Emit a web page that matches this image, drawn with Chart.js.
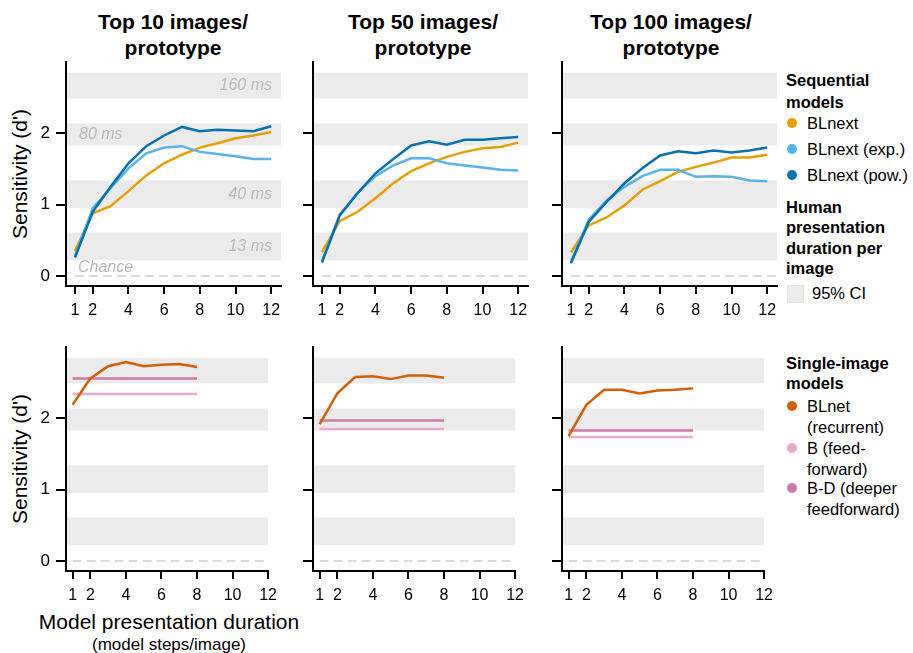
<!DOCTYPE html>
<html>
<head>
<meta charset="utf-8">
<script src="https://cdn.jsdelivr.net/npm/chart.js@4.4.0/dist/chart.umd.min.js"></script>
<style>
  body { margin: 0; background: #fff; font-family: 'Liberation Sans', Arial, sans-serif; color: #000; }
  #page { position: relative; width: 913px; height: 653px; overflow: hidden; }
  .panel { position: absolute; }
  .title { position: absolute; width: 260px; margin-left: -130px; text-align: center;
           font-weight: bold; font-size: 21px; line-height: 26px; }
  .ylab { position: absolute; white-space: nowrap; font-size: 21px;
          transform: translate(-50%, -50%) rotate(-90deg); }
  .xlab { position: absolute; white-space: nowrap; transform: translate(-50%, -50%); }
  .lg { position: absolute; left: 786px; font-size: 16.5px; white-space: nowrap; }
  .lg b { display: block; }
  .item { position: absolute; left: 807px; font-size: 16.5px; line-height: 21px; white-space: nowrap; }
  .dot { position: absolute; left: 787px; width: 10px; height: 10px; border-radius: 50%; }
</style>
</head>
<body>
<div id="page">
  <div class="ylab" style="left:20px;top:174px">Sensitivity (d')</div>
  <div class="ylab" style="left:20px;top:459px">Sensitivity (d')</div>
  <div class="xlab" style="left:169px;top:622px;font-size:21px">Model presentation duration</div>
  <div class="xlab" style="left:169px;top:645px;font-size:17px">(model steps/image)</div>

  <!-- legend -->
  <div class="lg" style="top:69px;line-height:22px"><b>Sequential<br>models</b></div>
  <div class="dot" style="top:118px;background:#E69F00"></div>
  <div class="item" style="top:112.5px">BLnext</div>
  <div class="dot" style="top:144px;background:#56B4E9"></div>
  <div class="item" style="top:138.5px">BLnext (exp.)</div>
  <div class="dot" style="top:170px;background:#0072B2"></div>
  <div class="item" style="top:164.5px">BLnext (pow.)</div>
  <div class="lg" style="top:196.5px;line-height:20.5px"><b>Human<br>presentation<br>duration per<br>image</b></div>
  <div style="position:absolute;left:787px;top:285px;width:15px;height:16px;background:#ebebeb;border:1px solid #e2e2e2"></div>
  <div class="item" style="top:282.5px;left:812px">95% CI</div>

  <div class="lg" style="top:352.5px;line-height:20.5px"><b>Single-image<br>models</b></div>
  <div class="dot" style="top:401px;background:#D55E00"></div>
  <div class="item" style="top:395.5px">BLnet<br>(recurrent)</div>
  <div class="dot" style="top:443px;background:#EBAAD2"></div>
  <div class="item" style="top:437.5px">B (feed-<br>forward)</div>
  <div class="dot" style="top:483px;background:#CC79A7"></div>
  <div class="item" style="top:477.5px">B-D (deeper<br>feedforward)</div>
</div>

<script>
// 데이터
const panelTitles = ['Top 10 images/', 'Top 50 images/', 'Top 100 images/'];
const steps = [1, 2, 3, 4, 5, 6, 7, 8, 9, 10, 11, 12];
const singleSteps = [1, 2, 3, 4, 5, 6, 7, 8];
const xTicks = [1, 2, 4, 6, 8, 10, 12];
const yTicks = [0, 1, 2];

// BLnext (top row, one array per panel)
const blnext = [
    [0.35, 0.88, 0.98, 1.19, 1.41, 1.58, 1.70, 1.80, 1.86, 1.93, 1.97, 2.02],
    [0.33, 0.77, 0.90, 1.09, 1.30, 1.47, 1.58, 1.67, 1.74, 1.79, 1.81, 1.87],
    [0.33, 0.71, 0.82, 0.99, 1.21, 1.33, 1.46, 1.53, 1.59, 1.66, 1.66, 1.70]
];
const blnextExp = [
    [0.27, 0.95, 1.23, 1.51, 1.72, 1.80, 1.82, 1.74, 1.71, 1.68, 1.64, 1.64],
    [0.20, 0.86, 1.17, 1.40, 1.55, 1.65, 1.65, 1.58, 1.55, 1.52, 1.49, 1.48],
    [0.20, 0.79, 1.06, 1.25, 1.40, 1.49, 1.49, 1.39, 1.40, 1.39, 1.34, 1.33]
];
const blnextPow = [
    [0.26, 0.90, 1.25, 1.58, 1.82, 1.97, 2.09, 2.03, 2.05, 2.04, 2.03, 2.10],
    [0.19, 0.85, 1.16, 1.44, 1.64, 1.83, 1.89, 1.84, 1.91, 1.91, 1.93, 1.95],
    [0.18, 0.76, 1.04, 1.30, 1.51, 1.69, 1.75, 1.72, 1.76, 1.73, 1.76, 1.80]
];

// single-image models (bottom row)
const blnet = [
    [2.19, 2.56, 2.73, 2.79, 2.73, 2.75, 2.76, 2.72],
    [1.92, 2.35, 2.58, 2.59, 2.55, 2.60, 2.60, 2.57],
    [1.75, 2.19, 2.40, 2.40, 2.35, 2.39, 2.40, 2.42]
];
const bFeed = [2.34, 1.85, 1.74];
const bDeeper = [2.56, 1.97, 1.83];

// human 95% CI bands (d')
const humanBands = [[0.22, 0.61], [0.955, 1.34], [1.83, 2.14], [2.49, 2.85]];
const bandLabels = ['13 ms', '40 ms', '80 ms', '160 ms'];

const COLORS = {
    blnext: '#E69F00', exp: '#56B4E9', pow: '#0072B2',
    blnet: '#D55E00', bff: '#EBAAD2', bd: '#CC79A7'
};

Chart.defaults.font.family = "'Liberation Sans', Arial, sans-serif";

// 사람 데이터 밴드 + chance 선
const bandsPlugin = {
    id: 'humanBands',
    beforeDraw(chart, args, opts) {
        const { ctx, chartArea: a, scales: { x, y } } = chart;
        ctx.save();
        ctx.fillStyle = '#ebebeb';
        humanBands.forEach(([lo, hi]) => {
            const top = y.getPixelForValue(hi);
            const bot = y.getPixelForValue(lo);
            ctx.fillRect(a.left, top, a.right - a.left, bot - top);
        });

        const y0 = y.getPixelForValue(0);
        ctx.strokeStyle = '#d9d9d9';
        ctx.lineWidth = 2;
        ctx.setLineDash([9, 5]);
        ctx.beginPath();
        ctx.moveTo(x.getPixelForValue(1), y0);
        ctx.lineTo(a.right, y0);
        ctx.stroke();
        ctx.setLineDash([]);

        if (opts.showLabels) {
            ctx.fillStyle = '#b8b8b8';
            ctx.font = "italic 16px 'Liberation Sans', Arial, sans-serif";
            ctx.textBaseline = 'middle';
            humanBands.forEach(([lo, hi], i) => {
                const ym = y.getPixelForValue((lo + hi) / 2);
                if (bandLabels[i] === '80 ms') {
                    ctx.textAlign = 'left';
                    ctx.fillText(bandLabels[i], a.left + 13, ym);
                } else {
                    ctx.textAlign = 'right';
                    ctx.fillText(bandLabels[i], a.right - 9, ym);
                }
            });
            ctx.textAlign = 'left';
            ctx.fillText('Chance', a.left + 12, y0 - 8);
        }
        ctx.restore();
    }
};

function toXY(xs, ys) {
    return xs.map((v, i) => ({ x: v, y: ys[i] }));
}

// 패널 생성
function makePanel(left, top, width, xMin, xMax, datasets, showLabels, showYLabels) {
    const PAD_TOP = 20, PAD_RIGHT = 12, Y_W = 40, X_H = 34, H = 224;
    const canvas = document.createElement('canvas');
    canvas.className = 'panel';
    canvas.width = Y_W + width + PAD_RIGHT;
    canvas.height = PAD_TOP + H + X_H;
    canvas.style.left = (left - Y_W) + 'px';
    canvas.style.top = (top - PAD_TOP) + 'px';
    document.getElementById('page').appendChild(canvas);

    new Chart(canvas.getContext('2d'), {
        type: 'line',
        data: { datasets: datasets },
        options: {
            responsive: false,
            animation: false,
            layout: { padding: { top: PAD_TOP, right: PAD_RIGHT, left: 0, bottom: 0 } },
            elements: {
                point: { radius: 0 },
                line: { borderWidth: 2.5, tension: 0, fill: false }
            },
            scales: {
                x: {
                    type: 'linear',
                    min: xMin,
                    max: xMax,
                    afterBuildTicks: s => { s.ticks = xTicks.map(v => ({ value: v })); },
                    afterFit: s => { s.height = X_H; },
                    grid: { drawOnChartArea: false, tickLength: 8, color: '#000', lineWidth: 2 },
                    border: { color: '#000', width: 2 },
                    ticks: { color: '#000', font: { size: 16 }, padding: 7, maxRotation: 0, autoSkip: false }
                },
                y: {
                    type: 'linear',
                    min: -0.14,
                    max: 3.0,
                    afterBuildTicks: s => { s.ticks = yTicks.map(v => ({ value: v })); },
                    afterFit: s => { s.width = Y_W; },
                    grid: {
                        drawOnChartArea: false, drawTicks: true, tickLength: 10,
                        color: '#000', tickColor: '#000', tickWidth: 2, lineWidth: 2
                    },
                    border: { color: '#000', width: 2 },
                    // 가운데/오른쪽 패널은 눈금만 남기고 라벨 숨김
                    ticks: {
                        color: '#000',
                        font: { size: 17 },
                        padding: 6,
                        callback: v => (showYLabels ? String(v) : '')
                    }
                }
            },
            plugins: {
                legend: { display: false },
                tooltip: { enabled: false },
                humanBands: { showLabels: showLabels }
            }
        },
        plugins: [bandsPlugin]
    });
}

const lefts = [66, 313, 562];
const titleCenters = [173, 423, 671];

lefts.forEach((left, i) => {
    // 제목
    const t = document.createElement('div');
    t.className = 'title';
    t.style.left = titleCenters[i] + 'px';
    t.style.top = '9px';
    t.innerHTML = panelTitles[i] + '<br>prototype';
    document.getElementById('page').appendChild(t);

    // 위: sequential models
    makePanel(left, 62, 215, 0.5, 12.55, [
        { data: toXY(steps, blnextPow[i]), borderColor: COLORS.pow },
        { data: toXY(steps, blnextExp[i]), borderColor: COLORS.exp },
        { data: toXY(steps, blnext[i]), borderColor: COLORS.blnext }
    ], i === 0, i === 0);

    // 아래: single-image models
    makePanel(left, 347, 206, 0.63, 12, [
        { data: toXY(singleSteps, blnet[i]), borderColor: COLORS.blnet },
        { data: singleSteps.map(s => ({ x: s, y: bDeeper[i] })), borderColor: COLORS.bd },
        { data: singleSteps.map(s => ({ x: s, y: bFeed[i] })), borderColor: COLORS.bff }
    ], false, i === 0);
});
</script>
</body>
</html>
